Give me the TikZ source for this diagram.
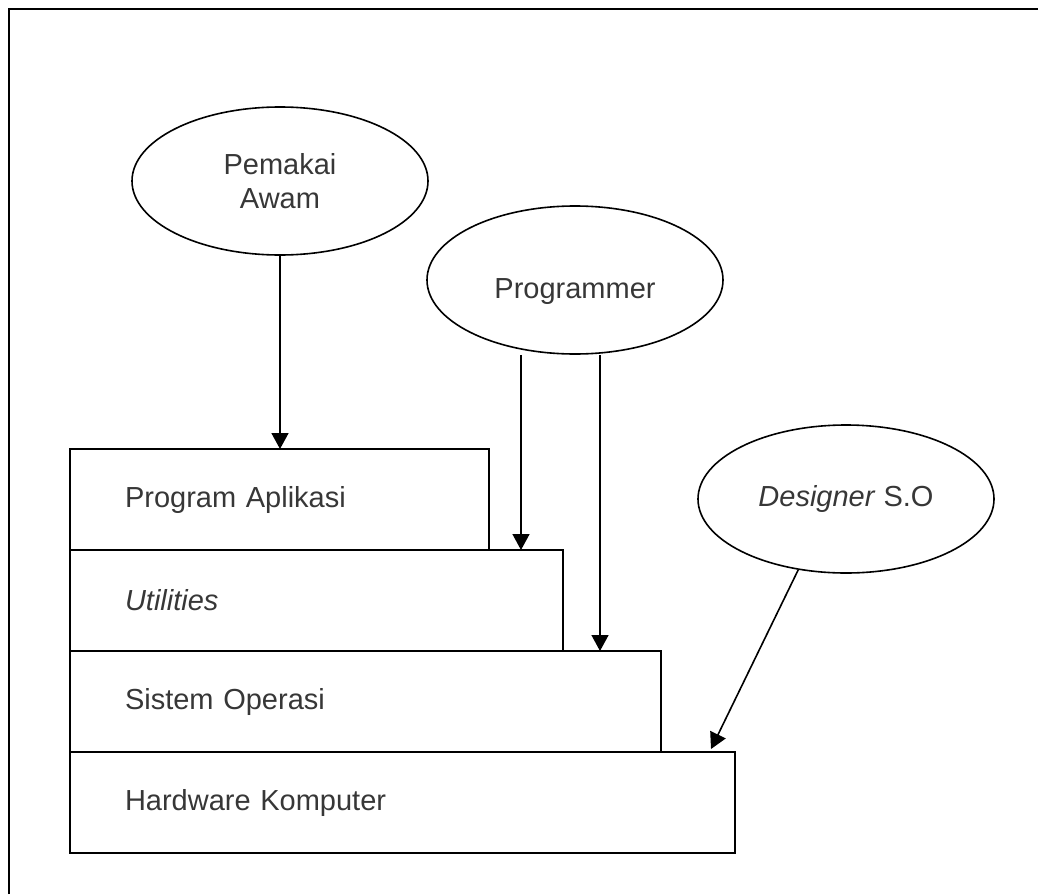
\documentclass[tikz,border=0pt]{standalone}
\usepackage{fontspec}
\setmainfont{Liberation Sans}
\definecolor{InkGray}{RGB}{55,55,55}
\usetikzlibrary{arrows.meta,positioning,shapes.geometric}

\begin{document}
\begin{tikzpicture}[
    x=1pt, y=-1pt, font=\fontsize{29}{34}\selectfont,
    layer/.style={draw, line width=2pt, anchor=north west, outer sep=0pt,
                  minimum height=101pt, inner xsep=55pt, align=left,
                  text width=#1, text=InkGray},
    user/.style={draw, ellipse, line width=1.6pt, minimum width=296pt,
                 minimum height=148pt, align=center, inner sep=0pt, text=InkGray},
    arr/.style={-{Triangle[length=16pt,width=17pt]}, line width=1.6pt}
  ]
    \useasboundingbox (0,0) rectangle (1038,894);
    % frame of the scan
    \draw[line width=2.8pt] (9,894) -- (9,9) -- (1038,9);

    % layers
    \node[layer=309pt] (apl) at (70,449) {Program Aplikasi};
    \node[layer=383pt, below=0pt of apl.south west, anchor=north west] (util) {\textit{Utilities}};
    \node[layer=481pt, below=0pt of util.south west, anchor=north west] (sys) {Sistem Operasi};
    \node[layer=555pt, below=0pt of sys.south west, anchor=north west] (hw) {Hardware Komputer};

    % users
    \node[user] (awam) at (280,181) {Pemakai\\Awam};
    \node[user] (prog) at (575,280) {\rule{0pt}{44pt}Programmer};
    \node[user] (des) at (846,499) {\textit{Designer} S.O};

    \coordinate (hwtip) at ([xshift=641pt, yshift=3pt]hw.north west);
    \draw[arr] (awam.south) -- (awam.south |- apl.north);
    \draw[arr] ([xshift=-54pt]prog.south) -- ([xshift=-54pt]prog.south |- util.north);
    \draw[arr] ([xshift=25pt]prog.south) -- ([xshift=25pt]prog.south |- sys.north);
    \draw[arr] (des.236) -- (hwtip);
  \end{tikzpicture}
\end{document}
